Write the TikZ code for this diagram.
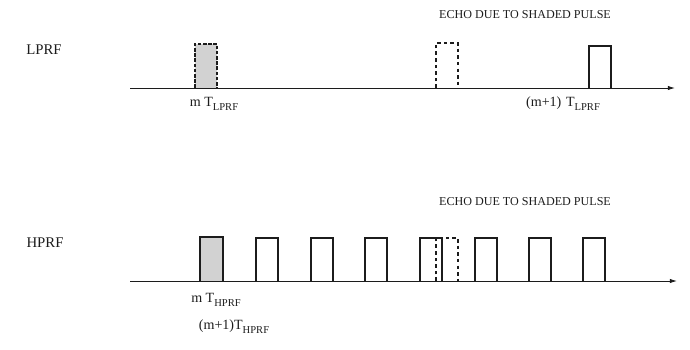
\documentclass[tikz,border=0pt]{standalone}
\usepackage{fontspec}
\setmainfont{Liberation Serif}
\usetikzlibrary{arrows.meta,positioning,calc}
\definecolor{Ink}{HTML}{1C1C1C}
\definecolor{Shade}{HTML}{D2D2D2}
\newcommand{\lowtxt}[1]{\raisebox{-0.6ex}{\fontsize{7.5}{9}\selectfont #1}}
\tikzset{
  timeaxis/.style={draw=Ink,line width=0.6pt,-{Latex[length=1.8mm,width=1.1mm]}},
  pulse/.style={draw=Ink,line width=0.75pt},
  shadedpulse/.style={pulse,fill=Shade,dash pattern=on 2.5pt off 1.2pt},
  echopulse/.style={pulse,dash pattern=on 2.5pt off 2.2pt},
  rowlabel/.style={font=\fontsize{10.5}{12}\selectfont,text=Ink},
  echolabel/.style={font=\fontsize{8.6}{10}\selectfont,text=Ink},
  timelabel/.style={font=\fontsize{10}{12}\selectfont,text=Ink}
}

\begin{document}
\begin{tikzpicture}[x=0.025cm,y=-0.025cm]
  \useasboundingbox (0,0) rectangle (690,349);
  % LPRF row
  \coordinate (la) at (130,88); \coordinate (lb) at (675,88);
  \node[rowlabel] (lprf) at (44,50) {LPRF};
  \node[echolabel] (lecho) at (525,15) {ECHO DUE TO SHADED PULSE};
  \fill[Shade] (195,88) rectangle (217,44);
  \draw[shadedpulse,fill=none] (195,88) |- (217,44) -- (217,88);
  \draw[echopulse] (436,88) |- (458,43) -- (458,88);
  \draw[pulse] (589,88) |- (611,46) -- (611,88);
  \draw[timeaxis] (la) -- (lb);
  \node[timelabel] (lm) at (214,104) {m T\lowtxt{LPRF}};
  \node[timelabel] (lm1) at (563,104) {(m+1)\,\,T\lowtxt{LPRF}};
  % HPRF row
  \coordinate (ha) at (130,281); \coordinate (hb) at (677,281);
  \node[rowlabel] (hprf) at (45,243) {HPRF};
  \node[echolabel] (hecho) at (525,202) {ECHO DUE TO SHADED PULSE};
  \fill[Shade] (200,281) rectangle (223,237);
  \draw[pulse] (200,281) |- (223,237) -- (223,281);
  \foreach \x in {256,311,365,420,475,529,583}
    \draw[pulse] (\x,281) |- ++(22,-43) -- ++(0,43);
  \draw[echopulse] (436,281) |- (458,238) -- (458,281);
  \draw[timeaxis] (ha) -- (hb);
  \node[timelabel] (hm) at (216,300) {m T\lowtxt{HPRF}};
  \node[timelabel] (hm1) at (234,327) {(m+1)T\lowtxt{HPRF}};
\end{tikzpicture}
\end{document}
